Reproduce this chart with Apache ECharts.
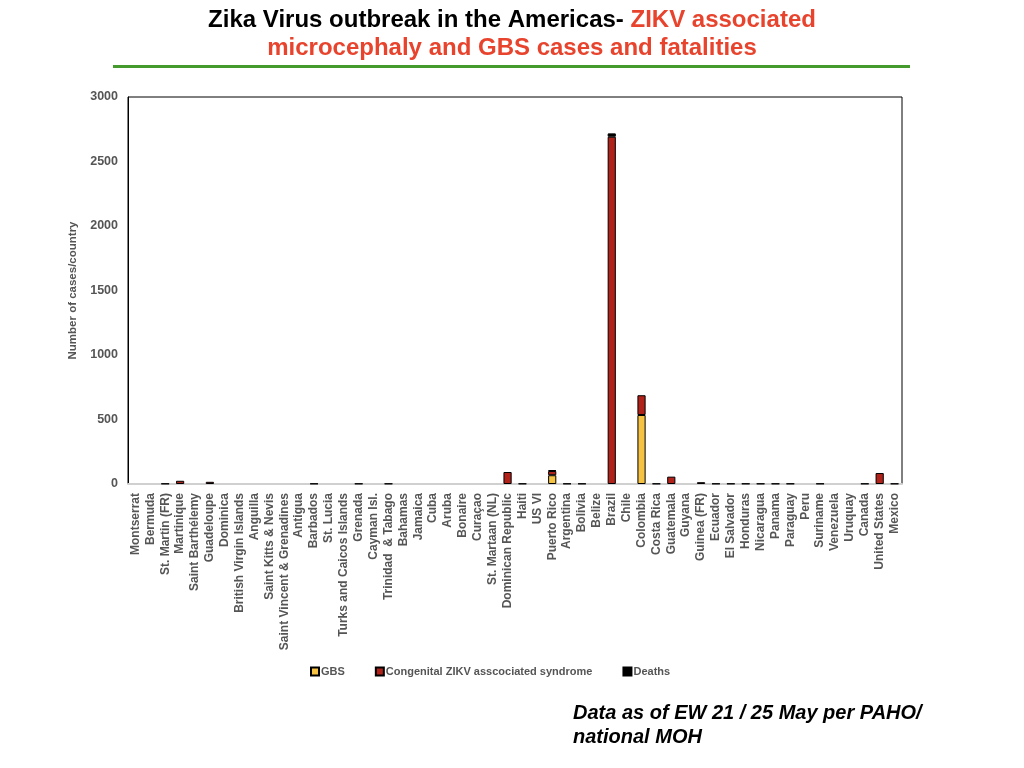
<!DOCTYPE html>
<html>
<head>
<meta charset="utf-8">
<script src="https://cdn.jsdelivr.net/npm/echarts@6/dist/echarts.min.js"></script>
<style>
  html, body { margin: 0; padding: 0; background: #fff; }
  #chart { width: 1024px; height: 768px; }
</style>
</head>
<body>
<div id="chart"></div>
<script>
// countries, in the order they are drawn
var countries = [
  'Montserrat', 'Bermuda', 'St. Martin (FR)', 'Martinique', 'Saint Barthélemy', 'Guadeloupe',
  'Dominica', 'British Virgin Islands', 'Anguilla', 'Saint Kitts & Nevis',
  'Saint Vincent & Grenadines', 'Antigua', 'Barbados', 'St. Lucia', 'Turks and Caicos Islands',
  'Grenada', 'Cayman Isl.', 'Trinidad  & Tabago', 'Bahamas', 'Jamaica', 'Cuba', 'Aruba',
  'Bonaire', 'Curaçao', 'St. Martaan (NL)', 'Dominican Republic', 'Haiti', 'US VI',
  'Puerto Rico', 'Argentina', 'Bolivia', 'Belize', 'Brazil', 'Chile', 'Colombia',
  'Costa Rica', 'Guatemala', 'Guyana', 'Guinea (FR)', 'Ecuador', 'El Salvador', 'Honduras',
  'Nicaragua', 'Panama', 'Paraguay', 'Peru', 'Suriname', 'Venezuela', 'Uruquay', 'Canada',
  'United States', 'Mexico'
];

// values ('-' = nothing reported)
var gbs = [
  '-', '-', 3, '-', '-', '-',
  '-', '-', '-', '-',
  '-', '-', 3, '-', '-',
  3, '-', 3, '-', '-', '-', '-',
  '-', '-', '-', '-', 3, '-',
  68, 3, 3, '-', '-', '-', 535,
  3, '-', '-', '-', 3, 3, 3,
  3, 3, 3, '-', 3, '-', '-', 3,
  '-', 3
];
var congenital = [
  '-', '-', '-', 25, '-', 17,
  '-', '-', '-', '-',
  '-', '-', '-', '-', '-',
  '-', '-', '-', '-', '-', '-', '-',
  '-', '-', '-', 93, '-', '-',
  33, '-', '-', '-', 2692, '-', 153,
  '-', 57, '-', 14, '-', '-', '-',
  '-', '-', '-', '-', '-', '-', '-', '-',
  85, '-'
];
var deaths = [
  '-', '-', '-', '-', '-', '-',
  '-', '-', '-', '-',
  '-', '-', '-', '-', '-',
  '-', '-', '-', '-', '-', '-', '-',
  '-', '-', '-', '-', '-', '-',
  7, '-', '-', '-', 26, '-', '-',
  '-', '-', '-', '-', '-', '-', '-',
  '-', '-', '-', '-', '-', '-', '-', '-',
  '-', '-'
];

var yTicks = [0, 500, 1000, 1500, 2000, 2500, 3000];

var chart = echarts.init(document.getElementById('chart'));

var barStyle = function (color) {
  return { color: color, borderColor: '#000', borderWidth: 1 };
};

var option = {
  backgroundColor: '#fff',
  animation: false,
  title: {
    left: 'center',
    top: 1,
    text: '{a|Zika Virus outbreak in the Americas- }{b|ZIKV associated}\n{b|microcephaly and GBS cases and fatalities}',
    textStyle: {
      fontFamily: 'Liberation Sans',
      fontWeight: 'bold',
      fontSize: 24,
      lineHeight: 28,
      align: 'center',
      rich: {
        a: { color: '#000', fontFamily: 'Liberation Sans', fontWeight: 'bold', fontSize: 24, lineHeight: 28 },
        b: { color: '#e8432d', fontFamily: 'Liberation Sans', fontWeight: 'bold', fontSize: 24, lineHeight: 28 }
      }
    }
  },
  legend: {
    top: 661,
    left: 305,
    icon: 'rect',
    itemWidth: 8,
    itemHeight: 8,
    itemGap: 30,
    textStyle: { color: '#555', fontFamily: 'Liberation Sans', fontWeight: 'bold', fontSize: 11, padding: [0, 0, 0, -3] },
    data: ['GBS', 'Congenital ZIKV asscociated syndrome', 'Deaths']
  },
  grid: {
    left: 128,
    right: 122,
    top: 97,
    bottom: 284,
    show: true,
    borderColor: '#000',
    borderWidth: 1
  },
  xAxis: {
    type: 'category',
    data: countries,
    axisLine: { show: true, lineStyle: { color: '#d0d0d0', width: 2 } },
    axisTick: { show: false },
    axisLabel: {
      rotate: 90,
      interval: 0,
      margin: 9,
      color: '#555',
      fontFamily: 'Liberation Sans',
      fontWeight: 'bold',
      fontSize: 12
    }
  },
  yAxis: {
    type: 'value',
    min: yTicks[0],
    max: yTicks[yTicks.length - 1],
    interval: 500,
    name: 'Number of cases/country',
    nameLocation: 'middle',
    nameGap: 40,
    nameTextStyle: { color: '#555', fontFamily: 'Liberation Sans', fontWeight: 'bold', fontSize: 11.5 },
    axisLine: { show: true, lineStyle: { color: '#000', width: 1 } },
    axisTick: { show: false },
    splitLine: { show: false },
    axisLabel: {
      margin: 10,
      color: '#555',
      fontFamily: 'Liberation Sans',
      fontWeight: 'bold',
      fontSize: 12.5,
      formatter: function (v) { return String(v); }
    }
  },
  series: [
    { name: 'GBS', type: 'bar', stack: 'c', barWidth: '55%', data: gbs, itemStyle: barStyle('#f5c242') },
    { name: 'Congenital ZIKV asscociated syndrome', type: 'bar', stack: 'c', data: congenital, itemStyle: barStyle('#b0221a') },
    { name: 'Deaths', type: 'bar', stack: 'c', data: deaths, itemStyle: barStyle('#000') }
  ],
  graphic: [
    {
      type: 'rect',
      shape: { x: 113, y: 65, width: 797, height: 3 },
      style: { fill: '#449a2c' }
    },
    {
      type: 'text',
      left: 573,
      top: 701,
      style: {
        text: 'Data as of EW 21 / 25 May per PAHO/\nnational MOH',
        fill: '#000',
        font: 'italic bold 20px "Liberation Sans"',
        lineHeight: 24
      }
    }
  ]
};

chart.setOption(option);
window.addEventListener('resize', function () {
  chart.resize();
});
</script>
</body>
</html>
